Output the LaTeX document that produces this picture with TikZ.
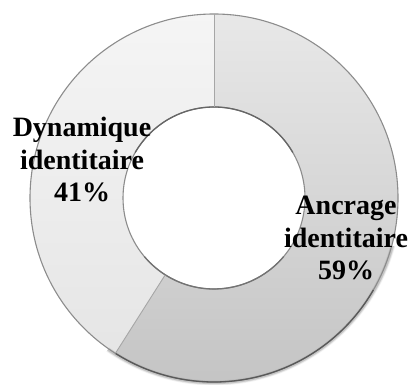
\documentclass[tikz,border=0pt]{standalone}
\usepackage{fontspec}
\setmainfont{Liberation Serif}
\usetikzlibrary{calc}
\begin{document}
\begin{tikzpicture}[x=1pt,y=1pt,
  seglabel/.style={font=\fontsize{28}{33}\selectfont\bfseries, inner sep=0pt, anchor=base},
  rimline/.style={line width=1.1pt, draw=black!45},
  cutline/.style={line width=0.9pt, draw=black!35}]
\useasboundingbox (0,0) rectangle (412,385);
\coordinate (c) at (214,187);
% Dynamique identitaire sector (41 %)
\path[top color=black!4, bottom color=black!10]
  ($(c)+(-122.4:184)$) arc[start angle=-122.4, end angle=-270, radius=184]
  -- ($(c)+(90:91)$) arc[start angle=90, end angle=237.6, radius=91] -- cycle;
% Ancrage identitaire sector (59 %)
\path[top color=black!9, bottom color=black!23]
  ($(c)+(90:184)$) arc[start angle=90, end angle=-122.4, radius=184]
  -- ($(c)+(-122.4:91)$) arc[start angle=-122.4, end angle=90, radius=91] -- cycle;
% soft shading along the lower rim
\foreach \w/\o in {5/0.05,3.5/0.08,2.2/0.12} {
  \draw[line width=\w pt, black, opacity=\o]
    ($(c)+(-15:185)$) arc[start angle=-15, end angle=-125, radius=185];
}
% rims and the cut lines between sectors
\draw[rimline] (c) circle[radius=184];
\draw[line width=1.3pt, draw=black!65]
  ($(c)+(-30:184)$) arc[start angle=-30, end angle=-122.4, radius=184];
\draw[rimline] (c) circle[radius=91];
\draw[line width=1.3pt, draw=black!60]
  ($(c)+(30:91)$) arc[start angle=30, end angle=150, radius=91];
\draw[line width=1.3pt, draw=black!55]
  ($(c)+(-40:91)$) arc[start angle=-40, end angle=-140, radius=91];
\draw[cutline] ($(c)+(90:91)$) -- ($(c)+(90:184)$);
\draw[cutline] ($(c)+(-122.4:91)$) -- ($(c)+(-122.4:184)$);
% sector labels
\node[seglabel] (d1) at (82,248) {Dynamique};
\node[seglabel] (d2) at (82,215) {identitaire};
\node[seglabel] (d3) at (82,183) {41\%};
\node[seglabel] (a1) at (346,170) {Ancrage};
\node[seglabel] (a2) at (346,137) {identitaire};
\node[seglabel] (a3) at (346,105) {59\%};
\end{tikzpicture}
\end{document}
